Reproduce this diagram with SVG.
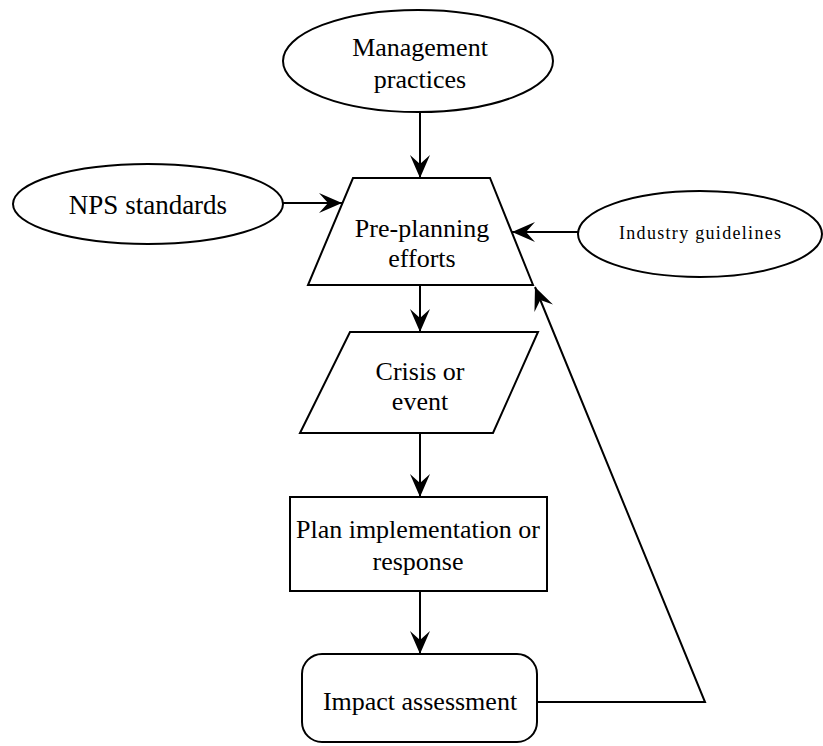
<svg xmlns="http://www.w3.org/2000/svg" width="823" height="746" viewBox="0 0 823 746">
<style>
.shape{fill:#fff;stroke:#000;stroke-width:2}
.t{font-family:"Liberation Serif","Times New Roman",serif;font-size:26px;fill:#000;text-anchor:middle}
.edge{fill:none;stroke:#000;stroke-width:2}
</style>
<defs>
<marker id="arr" markerUnits="userSpaceOnUse" markerWidth="26" markerHeight="24" viewBox="-24 -12 26 24" refX="0" refY="0" orient="auto">
<path d="M0,0 L-23,-10 L-14,0 L-23,10 Z" fill="#000"/>
</marker>
</defs>
<rect width="823" height="746" fill="#fff"/>
<g id="connectors">
<line class="edge" x1="420" y1="112" x2="420" y2="178" marker-end="url(#arr)"/>
<line class="edge" x1="283" y1="203" x2="342" y2="203" marker-end="url(#arr)"/>
<line class="edge" x1="578" y1="232" x2="512" y2="232" marker-end="url(#arr)"/>
<line class="edge" x1="420" y1="285" x2="420" y2="332" marker-end="url(#arr)"/>
<line class="edge" x1="420" y1="433" x2="420" y2="497" marker-end="url(#arr)"/>
<line class="edge" x1="420" y1="591" x2="420" y2="654" marker-end="url(#arr)"/>
<polyline class="edge" points="537,702 705,702 535,287" marker-end="url(#arr)"/>
</g>
<g id="management">
<ellipse class="shape" cx="418" cy="61" rx="135" ry="51"/>
<text class="t" x="420" y="56">Management</text>
<text class="t" x="420" y="88">practices</text>
</g>
<g id="nps">
<ellipse class="shape" cx="148" cy="204" rx="135" ry="40"/>
<text class="t" x="148" y="214" style="font-size:27px">NPS standards</text>
</g>
<g id="industry">
<ellipse class="shape" cx="700" cy="234" rx="122" ry="43"/>
<text class="t" x="700" y="239" style="font-size:18px" textLength="162" lengthAdjust="spacing">Industry guidelines</text>
</g>
<g id="preplanning">
<polygon class="shape" points="353,178 490,178 533,285 308,285"/>
<text class="t" x="422" y="237">Pre-planning</text>
<text class="t" x="422" y="267">efforts</text>
</g>
<g id="crisis">
<polygon class="shape" points="350,332 538,332 493,433 300,433"/>
<text class="t" x="420" y="380">Crisis or</text>
<text class="t" x="420" y="410">event</text>
</g>
<g id="plan">
<rect class="shape" x="290" y="497" width="257" height="94"/>
<text class="t" x="418" y="538">Plan implementation or</text>
<text class="t" x="418" y="570">response</text>
</g>
<g id="impact">
<rect class="shape" x="302" y="654" width="235" height="88" rx="20" ry="20"/>
<text class="t" x="420" y="710">Impact assessment</text>
</g>
</svg>
